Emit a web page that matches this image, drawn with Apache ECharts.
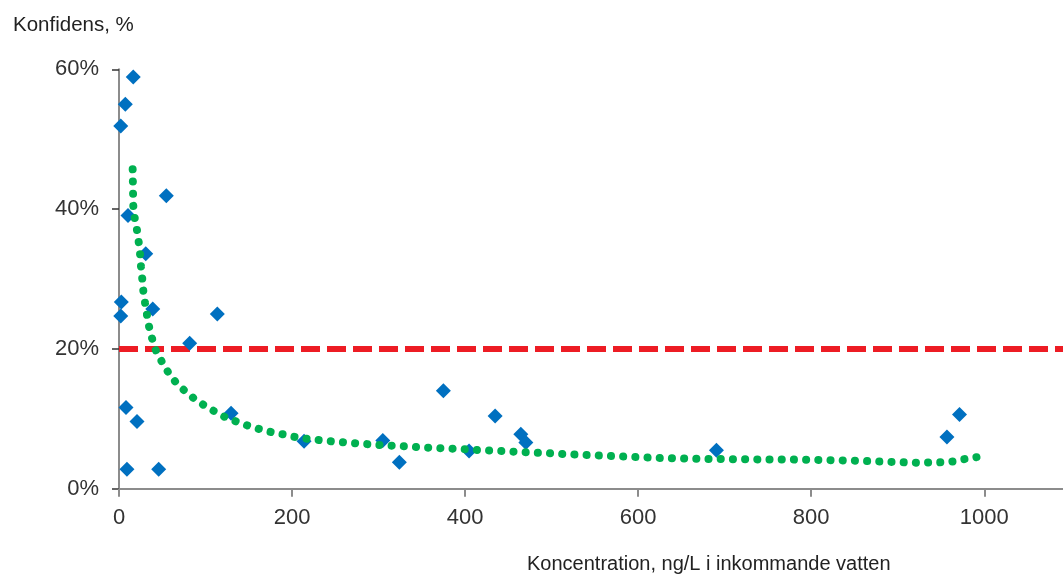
<!DOCTYPE html>
<html>
<head>
<meta charset="utf-8">
<script src="https://cdn.jsdelivr.net/npm/echarts@6/dist/echarts.min.js"></script>
<style>
html,body{margin:0;padding:0;background:#fff;}
#c{width:1063px;height:574px;}
</style>
</head>
<body>
<div id="c"></div>
<script>
// Measured points (concentration ng/L, confidence %)
var concX = [16.5, 7.3, 2.0, 54.7, 10.4, 30.9, 2.7, 2.0, 39.0, 8.1, 20.8, 9.2, 45.9, 113.6, 81.7, 129.5, 213.9, 304.9, 324, 374.9, 434.7, 404.6, 464.4, 470.2, 690.5, 956.9, 971.4];
var confY = [58.9, 55.0, 51.9, 41.9, 39.1, 33.6, 26.7, 24.7, 25.7, 11.6, 9.6, 2.8, 2.8, 25.0, 20.8, 10.8, 6.8, 6.9, 3.8, 14.0, 10.4, 5.4, 7.8, 6.6, 5.5, 7.4, 10.6];

// Trend line
var trendX = [15.8, 16.5, 18.2, 20.8, 22.8, 24.3, 25.4, 26.9, 28.1, 30.1, 32.4, 34.7, 38.2, 42.8, 49.4, 56.6, 65.1, 75.1, 85.8, 97.5, 109.8, 121.7, 134.9, 148, 161.8, 175.4, 189.3, 202.9, 217, 245, 273, 301, 329.5, 358, 386, 414, 442, 470, 498, 513, 569, 625, 682, 739, 795, 852, 894, 922, 950, 964.5, 978, 992];
var trendY = [45.7, 40.5, 38.7, 36.98, 35.25, 33.6, 31.8, 30.0, 28.3, 26.6, 24.8, 23.2, 21.5, 19.7, 18.2, 16.7, 15.3, 14.1, 13.0, 12.0, 11.1, 10.3, 9.64, 9.07, 8.54, 8.11, 7.78, 7.42, 7.14, 6.78, 6.5, 6.25, 6.07, 5.87, 5.72, 5.54, 5.39, 5.21, 5.06, 4.96, 4.68, 4.39, 4.25, 4.19, 4.15, 4.01, 3.82, 3.72, 3.77, 3.91, 4.25, 4.53];

// Threshold
var thresholdX = [0, 1091];
var thresholdY = 20;

var xTicks = [0, 200, 400, 600, 800, 1000];
var yTicks = [0, 20, 40, 60];

var FONT = "'Liberation Sans Narrow', 'Arial Narrow', 'Liberation Sans', sans-serif";

function zip(a, b) { return a.map(function (v, i) { return [v, b[i]]; }); }

var chart = echarts.init(document.getElementById('c'));
chart.setOption({
  animation: false,
  backgroundColor: '#fff',
  title: [
    { text: 'Konfidens, %', left: 8, top: 10, textStyle: { fontFamily: FONT, fontSize: 20.5, fontWeight: 'normal', color: '#222' } },
    { text: 'Koncentration, ng/L i inkommande vatten', left: 522, top: 549, textStyle: { fontFamily: FONT, fontSize: 20, fontWeight: 'normal', color: '#222' } }
  ],
  grid: { left: 119, right: 0, top: 69.3, bottom: 85.3, containLabel: false },
  xAxis: {
    type: 'value', min: 0, max: thresholdX[1], interval: 200,
    axisLine: { show: true, onZero: false, lineStyle: { color: '#8c8c8c', width: 2 } },
    axisTick: { show: true, length: 8, lineStyle: { color: '#8c8c8c', width: 2 } },
    axisLabel: { showMaxLabel: false, margin: 18, fontFamily: FONT, fontSize: 22, color: '#333',
      formatter: function (v) { return xTicks.indexOf(v) >= 0 ? String(v) : ''; } },
    splitLine: { show: false }
  },
  yAxis: {
    type: 'value', min: 0, max: 60, interval: 20,
    axisLine: { show: true, lineStyle: { color: '#8c8c8c', width: 2 } },
    axisTick: { show: true, length: 7, lineStyle: { color: '#333', width: 1.5 } },
    axisLabel: { margin: 20, fontFamily: FONT, fontSize: 22, color: '#333',
      formatter: function (v) { return yTicks.indexOf(v) >= 0 ? v + '%' : ''; } },
    splitLine: { show: false }
  },
  series: [
    {
      type: 'line', data: thresholdX.map(function (x) { return [x, thresholdY]; }),
      symbol: 'none', silent: true, z: 1,
      lineStyle: { color: '#ED1C24', width: 6, type: [19, 7] }
    },
    {
      type: 'scatter', data: zip(concX, confY), symbol: 'diamond', symbolSize: 15, z: 2,
      itemStyle: { color: '#0070C0', opacity: 1 }
    },
    {
      type: 'line', data: zip(trendX, trendY), symbol: 'none', smooth: false, z: 3,
      lineStyle: { color: '#00B050', width: 8, type: [0.1, 12.1], cap: 'round' }
    }
  ]
});
</script>
</body>
</html>
